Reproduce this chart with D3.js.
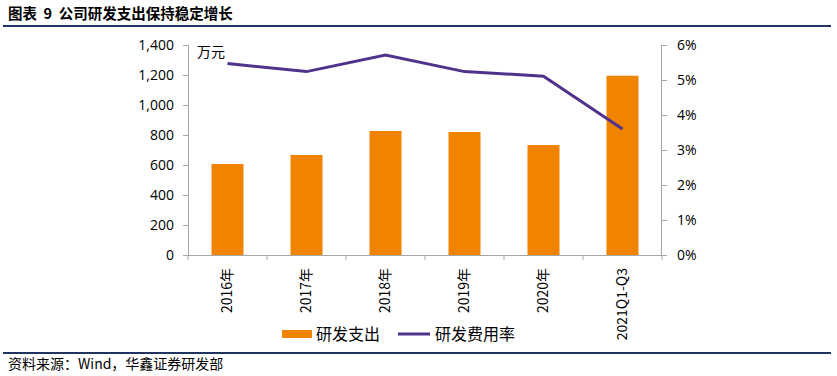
<!DOCTYPE html>
<html>
<head>
<meta charset="utf-8">
<script src="https://cdn.jsdelivr.net/npm/d3@7"></script>
<style>
    body { margin: 0; background: #fff; }
    svg text { font-family: "Open Sans", "Noto Sans", sans-serif; fill: #000; }
    .cjk { font-family: "Noto Sans CJK SC", sans-serif; }
</style>
</head>
<body>
<div id="chart"></div>
<script>
const categories = ['2016年', '2017年', '2018年', '2019年', '2020年', '2021Q1-Q3'];
const rdSpend = [607, 667, 827, 820, 733, 1195];
const rdRate = [5.47, 5.24, 5.71, 5.24, 5.11, 3.60];
const leftTicks = [0, 200, 400, 600, 800, 1000, 1200, 1400];
const rightTicks = [0, 1, 2, 3, 4, 5, 6];

const W = 837, H = 376;
const margin = { left: 188, right: 175, top: 45, bottom: 121 };
const innerW = W - margin.left - margin.right;
const innerH = H - margin.top - margin.bottom;

const svg = d3.select('#chart')
    .append('svg')
    .attr('width', W)
    .attr('height', H);

// title + rules
svg.append('text')
    .attr('class', 'cjk')
    .attr('x', 8)
    .attr('y', 19)
    .style('font-size', '14.5px')
    .style('font-weight', 'bold')
    .style('white-space', 'pre')
    .text('图表  9  公司研发支出保持稳定增长');

svg.append('line')
    .attr('x1', 3).attr('x2', 831)
    .attr('y1', 26).attr('y2', 26)
    .style('stroke', '#1f3560')
    .style('stroke-width', 2);

svg.append('line')
    .attr('x1', 3).attr('x2', 831)
    .attr('y1', 353).attr('y2', 353)
    .style('stroke', '#1f3560')
    .style('stroke-width', 2);

svg.append('text')
    .attr('class', 'cjk')
    .attr('x', 8)
    .attr('y', 369)
    .style('font-size', '14px')
    .text('资料来源：Wind，华鑫证券研发部');

const g = svg.append('g')
    .attr('transform', `translate(${margin.left},${margin.top})`);

const x = d3.scaleBand()
    .domain(categories)
    .range([0, innerW])
    .paddingInner(0.595)
    .paddingOuter(0.2975);

const yL = d3.scaleLinear().domain([0, 1400]).range([innerH, 0]);
const yR = d3.scaleLinear().domain([0, 6]).range([innerH, 0]);

// bars
g.selectAll('.bar')
    .data(rdSpend)
    .enter()
    .append('rect')
    .attr('class', 'bar')
    .attr('x', (d, i) => x(categories[i]))
    .attr('y', d => yL(d))
    .attr('width', x.bandwidth())
    .attr('height', d => innerH - yL(d))
    .style('fill', '#f08300');

// axes
const axisColor = '#a6a6a6';

const leftAxis = g.append('g')
    .call(d3.axisLeft(yL).tickValues(leftTicks).tickSize(5).tickPadding(9).tickFormat(d3.format(',')));
leftAxis.selectAll('text').style('font-size', '14px');

const rightAxis = g.append('g')
    .attr('transform', `translate(${innerW},0)`)
    .call(d3.axisRight(yR).tickValues(rightTicks).tickSize(5).tickPadding(10).tickFormat(d => d + '%'));
rightAxis.selectAll('text').style('font-size', '14px');

const step = x.step();
const bottomAxis = g.append('g')
    .attr('transform', `translate(0,${innerH})`)
    .call(d3.axisBottom(x).tickSize(0).tickPadding(0));
bottomAxis.selectAll('.tick text')
    .attr('class', 'cjk')
    .attr('transform', 'rotate(-90)')
    .attr('x', -13)
    .attr('y', 0)
    .attr('dy', '0.35em')
    .style('text-anchor', 'end')
    .style('font-size', '14px');

// category boundary ticks
g.append('g')
    .selectAll('line')
    .data(d3.range(categories.length + 1))
    .enter()
    .append('line')
    .attr('x1', d => d * step)
    .attr('x2', d => d * step)
    .attr('y1', innerH)
    .attr('y2', innerH + 5)
    .style('stroke', axisColor);

g.selectAll('.domain, .tick line').style('stroke', axisColor);
bottomAxis.select('.domain').attr('d', `M-5,0.5H${innerW + 5}`);
leftAxis.select('.domain').attr('d', `M0.5,0V${innerH}`);
rightAxis.select('.domain').attr('d', `M-0.5,0V${innerH}`);

// rate line
const line = d3.line()
    .x((d, i) => x(categories[i]) + x.bandwidth() / 2)
    .y(d => yR(d));

g.append('path')
    .datum(rdRate)
    .attr('d', line)
    .style('fill', 'none')
    .style('stroke', '#50328c')
    .style('stroke-width', 3);

// unit
g.append('text')
    .attr('class', 'cjk')
    .attr('x', 9)
    .attr('y', 12)
    .style('font-size', '14px')
    .text('万元');

// legend
const legend = svg.append('g');
legend.append('rect')
    .attr('x', 282).attr('y', 330)
    .attr('width', 30).attr('height', 8)
    .style('fill', '#f08300');
legend.append('text')
    .attr('class', 'cjk')
    .attr('x', 316).attr('y', 340)
    .style('font-size', '16px')
    .text('研发支出');
legend.append('line')
    .attr('x1', 398).attr('x2', 430)
    .attr('y1', 334).attr('y2', 334)
    .style('stroke', '#50328c')
    .style('stroke-width', 3);
legend.append('text')
    .attr('class', 'cjk')
    .attr('x', 435).attr('y', 340)
    .style('font-size', '16px')
    .text('研发费用率');
</script>
</body>
</html>
